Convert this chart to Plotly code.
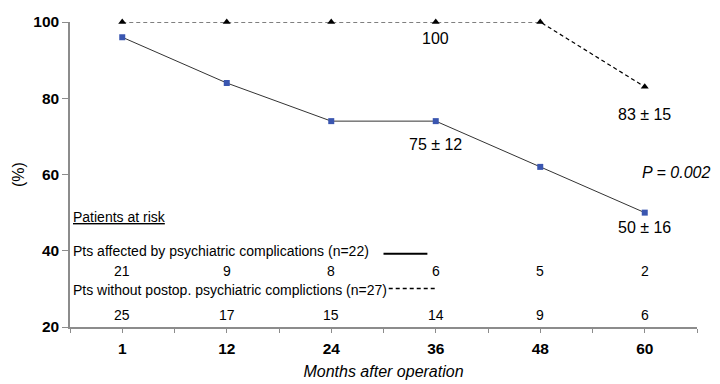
import plotly.graph_objects as go

months = ["1", "12", "24", "36", "48", "60"]
affected = [96, 84, 74, 74, 62, 50]
without = [100, 100, 100, 100, 100, 83]
risk_affected = [21, 9, 8, 6, 5, 2]
risk_without = [25, 17, 15, 14, 9, 6]
y_ticks = [20, 40, 60, 80, 100]

FONT = "Liberation Sans, Arial, sans-serif"
xi = list(range(len(months)))

fig = go.Figure()
fig.add_trace(go.Scatter(
    x=xi, y=without, mode="lines+markers", cliponaxis=False,
    line=dict(color="#000000", width=1.2, dash="4px,3px"),
    marker=dict(symbol="triangle-up", size=7, color="#000000"),
    showlegend=False))
fig.add_trace(go.Scatter(
    x=xi, y=affected, mode="lines+markers", cliponaxis=False,
    line=dict(color="#333333", width=1),
    marker=dict(symbol="square", size=6, color="#3a56b0"),
    showlegend=False))

TXT = dict(family=FONT, size=14, color="#000")
BIG = dict(family=FONT, size=16, color="#000")
ann = []
ann.append(dict(x=xi[3], y=without[3], text="100", yshift=-16))
ann.append(dict(x=xi[5], y=without[5], text="83 ± 15", yshift=-28))
ann.append(dict(x=xi[3], y=affected[3], text="75 ± 12", yshift=-23))
ann.append(dict(x=xi[5], y=affected[5], text="50 ± 16", yshift=-15))
for a in ann:
    a.update(xref="x", yref="y", showarrow=False, font=BIG)
ann.append(dict(x=5.3, y=60.6, xref="x", yref="y", showarrow=False,
                text="<i>P = 0.002</i>", font=BIG))

for i, (a, b) in enumerate(zip(risk_affected, risk_without)):
    ann.append(dict(x=xi[i], y=34.7, xref="x", yref="y", showarrow=False, text=str(a), font=TXT))
    ann.append(dict(x=xi[i], y=23.1, xref="x", yref="y", showarrow=False, text=str(b), font=TXT))
ann.append(dict(x=-0.5, y=48.8, xref="x", yref="y", xanchor="left", xshift=1, showarrow=False,
                text="<u>Patients at risk</u>", font=TXT))
ann.append(dict(x=-0.5, y=40, xref="x", yref="y", xanchor="left", xshift=1, showarrow=False,
                text="Pts affected by psychiatric complications (n=22)", font=TXT))
ann.append(dict(x=-0.5, y=29.8, xref="x", yref="y", xanchor="left", xshift=1, showarrow=False,
                text="Pts without postop. psychiatric complictions (n=27)", font=TXT))

shapes = [
    dict(type="line", xref="x", yref="y", x0=2.5, x1=2.92, y0=39.2, y1=39.2,
         line=dict(color="#000", width=2)),
    dict(type="line", xref="x", yref="y", x0=2.55, x1=3.0, y0=30.1, y1=30.1,
         line=dict(color="#000", width=1.3, dash="4px,3px")),
]

TICKF = dict(family=FONT, size=15.5, color="#000", weight="bold")
fig.update_layout(
    width=720, height=384,
    margin=dict(l=62, r=31, t=14, b=65, autoexpand=False),
    paper_bgcolor="white", plot_bgcolor="white",
    font=TXT,
    annotations=ann, shapes=shapes,
    xaxis=dict(
        range=[-0.5, 5.5], tickmode="array", tickvals=xi, ticktext=months,
        automargin=False,
        showgrid=False, zeroline=False, showline=True, linecolor="#8c8c8c", linewidth=1.5,
        ticks="outside", ticklen=4, tickcolor="#8c8c8c", ticklabelstandoff=3,
        minor=dict(tick0=-0.5, dtick=1, ticks="outside", ticklen=4, tickcolor="#8c8c8c"),
        tickfont=TICKF,
        title=dict(text="<i>Months after operation</i>", standoff=9, font=BIG),
    ),
    yaxis=dict(
        range=[20, 100], tickmode="array", tickvals=y_ticks,
        automargin=False,
        showgrid=False, zeroline=False, showline=True, linecolor="#8c8c8c", linewidth=1.5,
        ticks="outside", ticklen=6, tickcolor="#8c8c8c",
        tickfont=TICKF,
        title=dict(text="(%)", standoff=5, font=BIG),
    ),
)

fig.write_html("out.html")
